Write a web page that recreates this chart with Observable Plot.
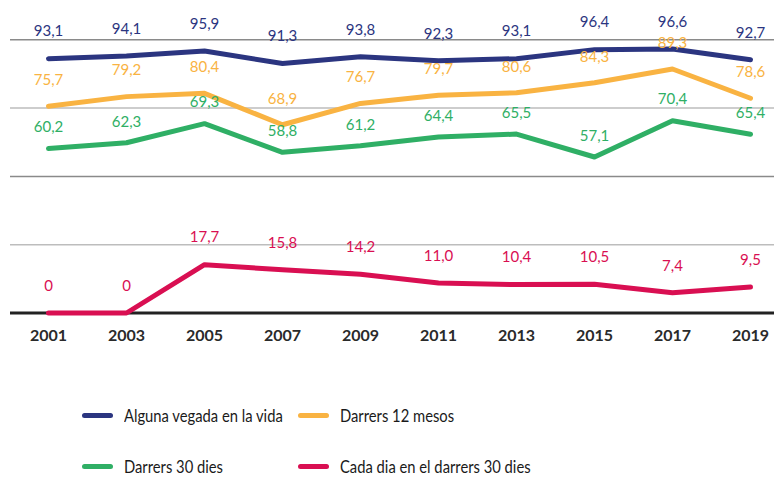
<!DOCTYPE html>
<html>
<head>
<meta charset="utf-8">
<script src="https://cdn.jsdelivr.net/npm/d3@7"></script>
<script src="https://cdn.jsdelivr.net/npm/@observablehq/plot@0.6"></script>
<style>
  html, body { margin: 0; padding: 0; background: #fff; }
  body { font-family: Lato, "Noto Sans", sans-serif; width: 774px; height: 477px; overflow: hidden; }
  #legend { position: relative; width: 774px; height: 105px; }
  .item { position: absolute; display: flex; align-items: center; height: 24px; transform: translateY(-50%); }
  .sw { width: 31px; height: 5px; border-radius: 3px; margin-right: 11px; flex: none; }
  .lab { font-size: 18px; color: #1a1a1a; white-space: nowrap; transform: scaleX(0.82); transform-origin: left center; }
</style>
</head>
<body>
<div id="chart"></div>
<div id="legend"></div>
<script>
const years = [2001, 2003, 2005, 2007, 2009, 2011, 2013, 2015, 2017, 2019];
const seriesNames = ["Alguna vegada en la vida", "Darrers 12 mesos", "Darrers 30 dies", "Cada dia en el darrers 30 dies"];
const colors = ["#2b3580", "#f9b342", "#2faf65", "#d90f52"];
const alguna = [93.1, 94.1, 95.9, 91.3, 93.8, 92.3, 93.1, 96.4, 96.6, 92.7];
const darrers12 = [75.7, 79.2, 80.4, 68.9, 76.7, 79.7, 80.6, 84.3, 89.3, 78.6];
const darrers30 = [60.2, 62.3, 69.3, 58.8, 61.2, 64.4, 65.5, 57.1, 70.4, 65.4];
const cadaDia = [0, 0, 17.7, 15.8, 14.2, 11.0, 10.4, 10.5, 7.4, 9.5];
const gridValues = [25, 50, 75, 100];

const allSeries = [alguna, darrers12, darrers30, cadaDia];
const labelOffsets = [-27, -26, -21, -27];

const rows = [];
allSeries.forEach((vals, si) => {
  vals.forEach((v, i) => rows.push({series: seriesNames[si], year: years[i], value: v, si}));
});
const fmt = v => v === 0 ? "0" : v.toFixed(1).replace(".", ",");

const marks = [
  Plot.ruleY(gridValues, {y: d => d, stroke: d => (d % 50 === 0 ? "#8a8a8a" : "#bdbdbd"), strokeWidth: 1.5}),
  Plot.ruleY([0], {stroke: "#222", strokeWidth: 3}),
  Plot.axisX({ticks: years, tickFormat: d => String(d), tickSize: 0, tickPadding: 17, fontSize: 16, fontWeight: "bold", fill: "#2a2a2a", label: null})
];
seriesNames.forEach((name, si) => {
  const data = rows.filter(r => r.si === si);
  marks.push(Plot.line(data, {x: "year", y: "value", stroke: colors[si], strokeWidth: 5, strokeLinecap: "round", strokeLinejoin: "round"}));
});
seriesNames.forEach((name, si) => {
  const data = rows.filter(r => r.si === si);
  marks.push(Plot.text(data, {x: "year", y: "value", text: d => fmt(d.value), fill: colors[si], dy: labelOffsets[si], fontSize: 15}));
});

const plot = Plot.plot({
  width: 774,
  height: 372,
  marginLeft: 10,
  marginRight: 0,
  marginTop: 39.3,
  marginBottom: 59.5,
  style: {fontFamily: "Lato, 'Noto Sans', sans-serif", background: "#fff", overflow: "visible"},
  x: {domain: [2001, 2019], range: [48, 750], axis: null},
  y: {domain: [0, 100], range: [312.5, 39.3], axis: null},
  marks
});
document.getElementById("chart").appendChild(plot);

const legend = document.getElementById("legend");
const positions = [[82, 43], [298, 43], [82, 94], [298, 94]];
seriesNames.forEach((name, si) => {
  const it = document.createElement("div");
  it.className = "item";
  it.style.left = positions[si][0] + "px";
  it.style.top = positions[si][1] + "px";
  it.innerHTML = `<div class="sw" style="background:${colors[si]}"></div><div class="lab"></div>`;
  it.querySelector(".lab").textContent = name;
  legend.appendChild(it);
});
</script>
</body>
</html>
